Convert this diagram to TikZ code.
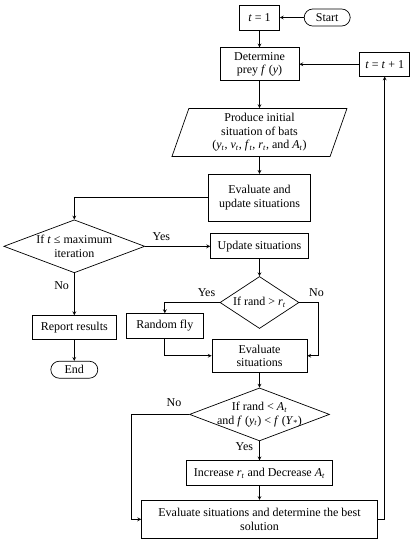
\documentclass[tikz,border=0pt]{standalone}
\usepackage{fontspec}
\setmainfont{Liberation Serif}
\usetikzlibrary{positioning,shapes.geometric}
\newcommand{\vsub}[2]{\textit{#1}\textsubscript{\textit{#2}}}

\begin{document}
\begin{tikzpicture}[
x=1pt, y=1pt,
every node/.style={align=center, font=\fontsize{12}{13.5}\selectfont},
box/.style={draw, inner sep=1pt},
term/.style={draw, rounded corners=8.5pt, inner sep=1pt},
io/.style={draw, trapezium, trapezium left angle=66, trapezium right angle=114,
  trapezium stretches body, inner sep=0pt},
decision/.style={draw, diamond, inner sep=-3pt},
lbl/.style={inner sep=2pt},
line width=0.7pt,
>=stealth
]

\useasboundingbox (0,0) rectangle (419,-550);

%-------------------------
% Nodes
%-------------------------

\node (tinit) [box, minimum width=40pt, minimum height=25pt] at (259.5,-17.5) {\textit{t} = 1};
\node (start) [term, right=24pt of tinit, minimum width=46pt, minimum height=17pt] {Start};

\node (prey) [box, below=17pt of tinit, minimum width=79pt, minimum height=33pt] {Determine\\prey \textit{f} (\textit{y})};
\node (tnext) [box, right=60pt of prey, minimum width=50pt, minimum height=24pt] {\textit{t} = \textit{t} + 1};

\node (bats) [io, below=27pt of prey, minimum width=175pt, minimum height=48pt]
{Produce initial\\situation of bats\\(\vsub{y}{t}, \vsub{v}{t}, \vsub{f}{t}, \vsub{r}{t}, and \vsub{A}{t})};

\node (evalupd) [box, below=17pt of bats, minimum width=102pt, minimum height=47pt] {Evaluate and\\update situations};

\node (update) [box, below=12pt of evalupd, minimum width=98pt, minimum height=25pt] {Update situations};
\node (maxit) [decision, aspect=2.66, left=65pt of update, minimum width=141pt, minimum height=53pt]
{If \textit{t} ≤ maximum\\iteration};

\node (report) [box, below=42pt of maxit, minimum width=84pt, minimum height=24pt] {Report results};
\node (finish) [term, below=21pt of report, minimum width=47pt, minimum height=17pt] {End};

\node (randr) [decision, aspect=1.52, below=17pt of update, minimum width=79pt, minimum height=52pt]
{If rand > \vsub{r}{t}};
\node (evalsit) [box, below=10pt of randr, minimum width=95pt, minimum height=33pt] {Evaluate\\situations};
\node (fly) [box, anchor=south east, minimum width=77pt, minimum height=25pt]
at ([xshift=-8pt]evalsit.north west) {Random fly};

\node (randa) [decision, aspect=2.64, below=15pt of evalsit, minimum width=140pt, minimum height=53pt]
{If rand < \vsub{A}{t}\\and \textit{f} (\vsub{y}{t}) < \textit{f} (\textit{Y}\textsubscript{*})};
\node (increase) [box, below=19pt of randa, minimum width=146pt, minimum height=25pt]
{Increase \vsub{r}{t} and Decrease \vsub{A}{t}};
\node (best) [box, below=14pt of increase, minimum width=236pt, minimum height=38pt]
{Evaluate situations and determine the best\\solution};

%-------------------------
% Arrows
%-------------------------

\draw[->] (start) -- (tinit);
\draw[->] (tinit) -- (prey);
\draw[->] (tnext) -- (prey);
\draw[->] (prey) -- (bats);
\draw[->] (bats) -- (evalupd);
\draw[->] (evalupd.west) -| (maxit.north);

\draw[->] (maxit) -- node[lbl, above=3pt, pos=0.25] {Yes} (update);
\draw[->] (maxit) -- node[lbl, left=3pt, pos=0.3] {No} (report);
\draw[->] (report) -- (finish);

\draw[->] (update) -- (randr);
\draw[->] (randr.west) -| node[lbl, above=4pt, pos=0.12] {Yes} (fly.north);
\draw[->] (randr.east) -| node[lbl, above=4pt, pos=0.45] {No} ([xshift=11pt]evalsit.east) -- (evalsit.east);
\draw[->] (fly.south) |- (evalsit.west);

\draw[->] (evalsit) -- (randa);
\draw[->] (randa.west) -| node[lbl, above=5pt, pos=0.13] {No} ([xshift=-10pt]best.west) -- (best.west);
\draw[->] (randa) -- node[lbl, left=4pt, pos=0.3] {Yes} (increase);
\draw[->] (increase) -- (best);

\draw[->] (best.east) -| (tnext.south);

\end{tikzpicture}
\end{document}
